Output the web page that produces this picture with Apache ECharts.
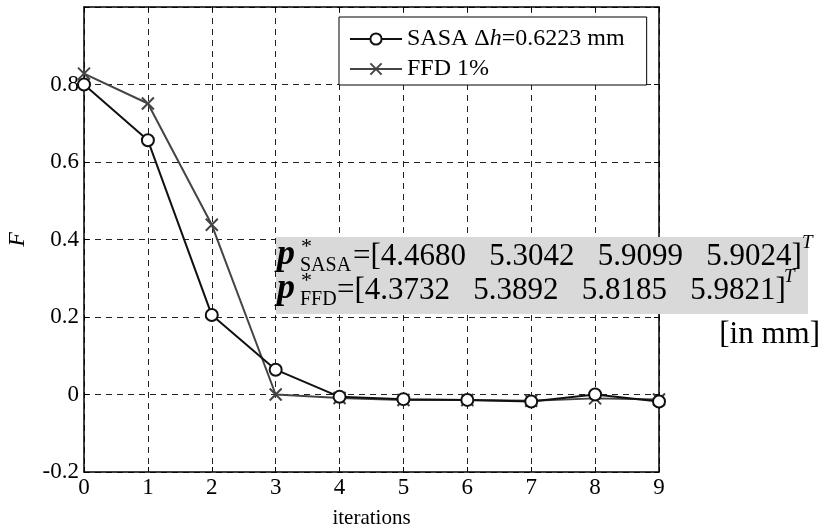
<!DOCTYPE html>
<html>
<head>
<meta charset="utf-8">
<script src="https://cdn.jsdelivr.net/npm/echarts@6/dist/echarts.min.js"></script>
<style>
  html, body { margin: 0; padding: 0; background: #fff; }
  #chart { width: 822px; height: 531px; }
</style>
</head>
<body>
<div id="chart"></div>
<script>
// Iteration index and objective values F for both optimisation runs
const iterations = [0, 1, 2, 3, 4, 5, 6, 7, 8, 9];
const sasaValues = [0.800, 0.656, 0.205, 0.064, -0.006, -0.012, -0.014, -0.018, 0.000, -0.018];
const ffdValues  = [0.828, 0.751, 0.438, 0.000, -0.009, -0.014, -0.014, -0.016, -0.010, -0.013];
const yTicks = [-0.2, 0, 0.2, 0.4, 0.6, 0.8];

// Optimal design vectors (mm)
const pSasa = ['4.4680', '5.3042', '5.9099', '5.9024'];
const pFfd  = ['4.3732', '5.3892', '5.8185', '5.9821'];

const SERIF = '"Liberation Serif", "DejaVu Serif", serif';

const chart = echarts.init(document.getElementById('chart'), null, { renderer: 'canvas' });

const gridLine = { show: true, lineStyle: { color: '#222', width: 1, type: [6, 5] } };
const boxLine = { show: true, onZero: false, lineStyle: { color: '#000', width: 1.5 } };
const innerTick = { show: true, inside: true, length: 5, lineStyle: { color: '#000', width: 1 } };

const crossPath = 'path://M0,0L10,10M10,0L0,10';

// text helper for the design-vector annotation
function txt(x, y, text, font) {
  return {
    type: 'text', z: 101, x: x, y: y,
    style: { text: text, font: font, fill: '#000', align: 'left', verticalAlign: 'middle' }
  };
}

chart.setOption({
  animation: false,
  backgroundColor: '#fff',
  grid: { left: 84, right: 163, top: 7, bottom: 59, containLabel: false, outerBoundsMode: 'none' },
  legend: {
    orient: 'vertical',
    left: 339,
    top: 17,
    padding: [10, 22, 4, 10],
    itemGap: 6,
    itemWidth: 52,
    itemHeight: 14,
    backgroundColor: '#fff',
    borderColor: '#000',
    borderWidth: 1,
    borderRadius: 0,
    textStyle: {
      fontFamily: SERIF, fontSize: 24, color: '#000',
      rich: {
        n: { fontFamily: SERIF, fontSize: 24, color: '#000' },
        i: { fontFamily: SERIF, fontSize: 24, fontStyle: 'italic', color: '#000' }
      }
    },
    formatter: function (name) {
      if (name.indexOf('SASA') === 0) {
        return '{n|SASA \u0394}{i|h}{n|=0.6223 mm}';
      }
      return name;
    },
    data: ['SASA \u0394h=0.6223 mm', 'FFD 1%']
  },
  xAxis: [{
    type: 'value',
    min: 0, max: 9, interval: 1,
    name: 'iterations',
    nameLocation: 'middle',
    nameGap: 36,
    nameTextStyle: { fontFamily: SERIF, fontSize: 21, color: '#000' },
    axisLine: boxLine,
    axisTick: innerTick,
    axisLabel: { fontFamily: SERIF, fontSize: 23, color: '#000', margin: 4 },
    splitLine: gridLine
  }, {
    type: 'value', position: 'top',
    min: 0, max: 9, interval: 1,
    axisLine: boxLine, axisTick: innerTick,
    axisLabel: { show: false }, splitLine: { show: false }
  }],
  yAxis: [{
    type: 'value',
    min: -0.2, max: 1.0, interval: 0.2,
    name: 'F',
    nameLocation: 'middle',
    nameGap: 54,
    nameTextStyle: { fontFamily: SERIF, fontSize: 24, fontStyle: 'italic', color: '#000' },
    axisLine: boxLine,
    axisTick: innerTick,
    axisLabel: {
      fontFamily: SERIF, fontSize: 23, color: '#000', margin: 5,
      formatter: function (v) {
        const r = Math.round(v * 10) / 10;
        return yTicks.indexOf(r) >= 0 ? String(r) : '';
      }
    },
    splitLine: gridLine
  }, {
    type: 'value', position: 'right',
    min: -0.2, max: 1.0, interval: 0.2,
    axisLine: boxLine, axisTick: innerTick,
    axisLabel: { show: false }, splitLine: { show: false }
  }],
  series: [{
    name: 'SASA \u0394h=0.6223 mm',
    type: 'line',
    data: iterations.map((it, k) => [it, sasaValues[k]]),
    symbol: 'emptyCircle',
    symbolSize: 12,
    showAllSymbol: true,
    lineStyle: { color: '#111', width: 2 },
    itemStyle: { color: '#111', borderColor: '#111', borderWidth: 2 },
    z: 3
  }, {
    name: 'FFD 1%',
    type: 'line',
    data: iterations.map((it, k) => [it, ffdValues[k]]),
    symbol: crossPath,
    symbolSize: 12,
    showAllSymbol: true,
    lineStyle: { color: '#444', width: 2 },
    itemStyle: { color: '#444', borderColor: '#444', borderWidth: 2 },
    z: 2
  }],
  graphic: [{
    type: 'rect',
    shape: { x: 276, y: 237, width: 532, height: 77 },
    style: { fill: '#d9d9d9' },
    z: 100
  },
  // first row: SASA design vector
  txt(277, 255, 'p', 'italic bold 36px ' + SERIF),
  txt(301, 247, '*', '22px ' + SERIF),
  txt(300, 266, 'SASA', '20px ' + SERIF),
  txt(353, 257, '=[' + pSasa.join('   ') + ']', '31px ' + SERIF),
  txt(802, 243, 'T', 'italic 19px ' + SERIF),
  // second row: FFD design vector
  txt(277, 289, 'p', 'italic bold 36px ' + SERIF),
  txt(301, 281, '*', '22px ' + SERIF),
  txt(300, 300, 'FFD', '20px ' + SERIF),
  txt(337, 291, '=[' + pFfd.join('   ') + ']', '31px ' + SERIF),
  txt(784, 277, 'T', 'italic 19px ' + SERIF),
  // unit note
  {
    type: 'text', z: 101, x: 820, y: 335,
    style: { text: '[in mm]', font: '31px ' + SERIF, fill: '#000', align: 'right', verticalAlign: 'middle' }
  }]
});
</script>
</body>
</html>
